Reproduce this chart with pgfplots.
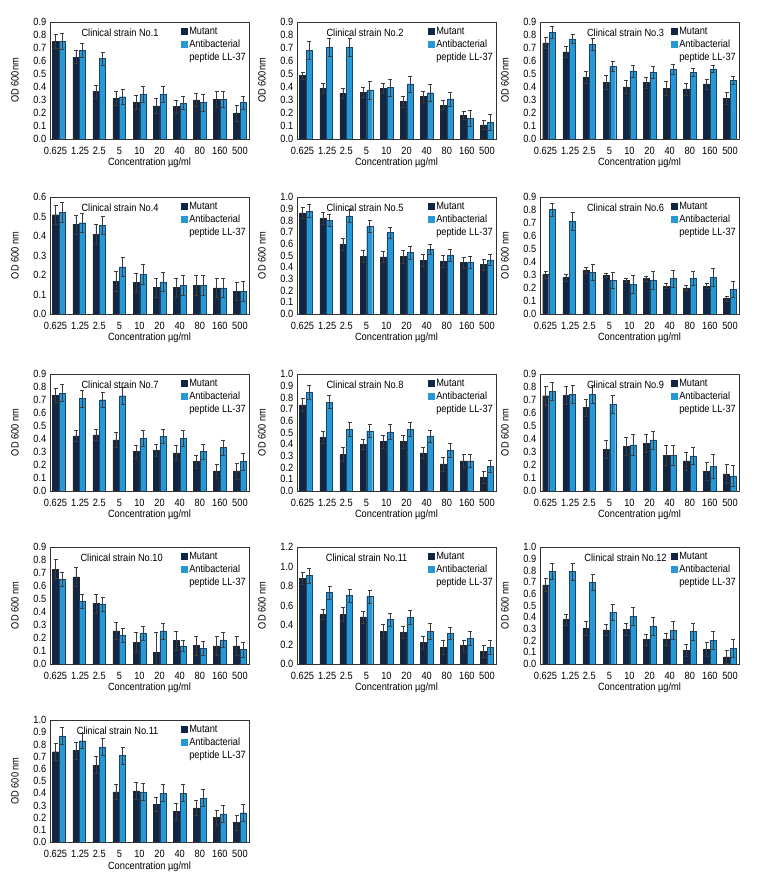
\documentclass[border=0pt]{standalone}
\usepackage{fontspec}
\setmainfont{Liberation Sans}[FakeStretch=0.88]
\usepackage{pgfplots}
\usepackage{pgfplotstable}
\pgfplotsset{compat=1.18}
\definecolor{mutcol}{RGB}{15,38,70}
\definecolor{llcol}{RGB}{38,152,214}
\definecolor{lledge}{RGB}{25,70,110}
\definecolor{errcol}{RGB}{60,60,60}
\newcommand{\fs}{\fontsize{10.5pt}{13.5pt}\selectfont}

\pgfplotsset{
  panel/.style={
    scale only axis, width=199pt,
    anchor=north west,
    ybar=0.7pt, bar width=6pt,
    xmin=-0.45, xmax=9.45, ymin=0,
    xtick={0,...,9},
    xticklabels={\hspace*{-7pt}0.625,\hspace*{2pt}1.25,2.5,5,10,20,40,80,160,500},
    tick style={draw=none},
    axis line style={draw=black!80, line width=0.6pt},
    /pgf/number format/assume math mode=true,
    yticklabel style={/pgf/number format/.cd, fixed, fixed zerofill, precision=1, assume math mode=true},
    xlabel={Concentration µg/ml},
    every axis x label/.style={at={(axis description cs:0.5,-0.205)}, anchor=center},
    every axis y label/.style={at={(axis description cs:-0.176,0.5)}, rotate=90, anchor=center},
    error bars/y dir=both, error bars/y explicit,
    error bars/error bar style={line width=0.5pt, draw=errcol},
    error bars/error mark options={rotate=90, mark size=2pt, line width=0.5pt, draw=errcol},
    legend style={draw=none, fill=none, at={(rel axis cs:1,1)}, anchor=north east,
      xshift=-1pt, yshift=-3pt, inner sep=0pt, row sep=-0.5pt,
      cells={anchor=west, align=left}},
    legend cell align=left,
  },
  mutbar/.style={fill=mutcol, draw=black!85, line width=0.4pt,
    legend image code/.code={\fill[mutcol] (-2pt,-3pt) rectangle (4pt,3pt);}},
  llbar/.style={fill=llcol, draw=lledge, line width=0.4pt,
    legend image code/.code={\fill[llcol] (-2pt,3.5pt) rectangle (4pt,9.5pt);}},
}

% #1 x, #2 y(top), #3 height, #4 ylabel, #5 ymax, #6 ystep, #7 title, #8 title rel x, #9 table
\newcommand{\panel}[9]{%
\begin{axis}[panel, at={(#1,#2)}, height=#3, ylabel={#4}, ymax=#5, ytick distance=#6]
\addplot[mutbar] table[x=x,y=m,y error=me]{#9};
\addlegendentry{Mutant}
\addplot[llbar] table[x=x,y=l,y error=le]{#9};
\addlegendentry{Antibacterial\\peptide LL-37}
\node[anchor=base] at (rel axis cs:#8,0.88) {#7};
\end{axis}}

\pgfplotstableread{
x m me l le
0 0.75 0.055 0.75 0.06
1 0.63 0.05 0.68 0.055
2 0.365 0.05 0.62 0.05
3 0.315 0.055 0.325 0.06
4 0.28 0.055 0.345 0.06
5 0.255 0.055 0.345 0.06
6 0.25 0.05 0.275 0.05
7 0.30 0.05 0.28 0.065
8 0.305 0.06 0.305 0.06
9 0.20 0.06 0.28 0.05
}\tA
\pgfplotstableread{
x m me l le
0 0.487 0.025 0.68 0.07
1 0.39 0.04 0.705 0.07
2 0.35 0.04 0.705 0.07
3 0.36 0.04 0.377 0.07
4 0.39 0.04 0.395 0.065
5 0.287 0.04 0.423 0.06
6 0.326 0.04 0.356 0.065
7 0.26 0.035 0.308 0.055
8 0.18 0.03 0.16 0.06
9 0.108 0.035 0.128 0.06
}\tB
\pgfplotstableread{
x m me l le
0 0.74 0.04 0.82 0.045
1 0.67 0.04 0.77 0.035
2 0.474 0.045 0.728 0.045
3 0.436 0.055 0.559 0.04
4 0.40 0.05 0.523 0.045
5 0.433 0.04 0.515 0.045
6 0.392 0.055 0.536 0.04
7 0.385 0.045 0.513 0.03
8 0.423 0.04 0.54 0.025
9 0.313 0.045 0.449 0.03
}\tC
\pgfplotstableread{
x m me l le
0 0.509 0.05 0.521 0.05
1 0.458 0.05 0.468 0.05
2 0.41 0.05 0.456 0.045
3 0.168 0.05 0.242 0.05
4 0.161 0.05 0.204 0.05
5 0.135 0.05 0.165 0.05
6 0.135 0.05 0.148 0.05
7 0.148 0.05 0.148 0.05
8 0.134 0.05 0.134 0.05
9 0.117 0.045 0.117 0.05
}\tD
\pgfplotstableread{
x m me l le
0 0.865 0.045 0.879 0.055
1 0.816 0.05 0.80 0.05
2 0.595 0.05 0.839 0.055
3 0.494 0.05 0.75 0.05
4 0.489 0.045 0.695 0.05
5 0.491 0.055 0.526 0.055
6 0.457 0.05 0.552 0.045
7 0.448 0.05 0.50 0.05
8 0.44 0.045 0.44 0.05
9 0.422 0.05 0.463 0.05
}\tE
\pgfplotstableread{
x m me l le
0 0.303 0.025 0.803 0.05
1 0.28 0.025 0.713 0.07
2 0.336 0.02 0.32 0.06
3 0.297 0.015 0.259 0.06
4 0.259 0.015 0.23 0.07
5 0.272 0.02 0.262 0.07
6 0.215 0.02 0.272 0.065
7 0.20 0.02 0.274 0.055
8 0.215 0.02 0.282 0.07
9 0.12 0.02 0.19 0.065
}\tF
\pgfplotstableread{
x m me l le
0 0.735 0.055 0.753 0.065
1 0.424 0.045 0.712 0.065
2 0.432 0.045 0.702 0.055
3 0.393 0.055 0.733 0.065
4 0.303 0.05 0.406 0.065
5 0.314 0.045 0.422 0.055
6 0.293 0.06 0.406 0.06
7 0.226 0.05 0.303 0.06
8 0.154 0.055 0.334 0.06
9 0.154 0.06 0.226 0.065
}\tG
\pgfplotstableread{
x m me l le
0 0.737 0.055 0.843 0.057
1 0.457 0.05 0.76 0.057
2 0.311 0.06 0.529 0.06
3 0.40 0.045 0.514 0.057
4 0.423 0.057 0.506 0.065
5 0.423 0.057 0.529 0.06
6 0.326 0.048 0.471 0.052
7 0.231 0.058 0.349 0.06
8 0.257 0.057 0.257 0.057
9 0.117 0.05 0.211 0.052
}\tH
\pgfplotstableread{
x m me l le
0 0.733 0.07 0.766 0.07
1 0.735 0.07 0.743 0.07
2 0.643 0.065 0.745 0.07
3 0.321 0.07 0.668 0.07
4 0.342 0.07 0.355 0.08
5 0.365 0.07 0.393 0.07
6 0.275 0.077 0.275 0.077
7 0.231 0.07 0.27 0.067
8 0.152 0.07 0.19 0.09
9 0.131 0.075 0.116 0.08
}\tI
\pgfplotstableread{
x m me l le
0 0.73 0.072 0.653 0.055
1 0.671 0.072 0.481 0.056
2 0.465 0.075 0.46 0.054
3 0.254 0.065 0.218 0.054
4 0.167 0.08 0.239 0.054
5 0.09 0.155 0.254 0.06
6 0.18 0.072 0.139 0.044
7 0.141 0.072 0.121 0.051
8 0.139 0.074 0.185 0.06
9 0.139 0.074 0.11 0.055
}\tJ
\pgfplotstableread{
x m me l le
0 0.878 0.063 0.906 0.077
1 0.51 0.056 0.733 0.066
2 0.507 0.07 0.701 0.07
3 0.483 0.06 0.691 0.07
4 0.337 0.073 0.455 0.07
5 0.323 0.06 0.476 0.073
6 0.219 0.063 0.337 0.08
7 0.174 0.073 0.316 0.063
8 0.188 0.056 0.264 0.07
9 0.132 0.06 0.17 0.073
}\tK
\pgfplotstableread{
x m me l le
0 0.677 0.052 0.794 0.066
1 0.38 0.049 0.789 0.071
2 0.303 0.06 0.697 0.066
3 0.291 0.049 0.443 0.066
4 0.297 0.052 0.406 0.077
5 0.209 0.048 0.323 0.077
6 0.214 0.052 0.289 0.074
7 0.117 0.052 0.277 0.072
8 0.126 0.06 0.203 0.074
9 0.06 0.054 0.134 0.08
}\tL
\pgfplotstableread{
x m me l le
0 0.74 0.07 0.87 0.07
1 0.75 0.07 0.83 0.06
2 0.63 0.07 0.78 0.07
3 0.41 0.06 0.71 0.07
4 0.42 0.07 0.41 0.07
5 0.31 0.06 0.40 0.07
6 0.25 0.07 0.40 0.07
7 0.28 0.06 0.36 0.07
8 0.20 0.06 0.23 0.07
9 0.16 0.06 0.24 0.07
}\tM

\begin{document}
\fs
\begin{tikzpicture}
\useasboundingbox (0,0) rectangle (756pt,888pt);
\panel{50pt}{866pt}{117pt}{OD 600nm}{0.9}{0.1}{Clinical strain No.1}{0.352}{\tA}
\panel{297pt}{866pt}{117pt}{OD 600nm}{0.9}{0.1}{Clinical strain No.2}{0.342}{\tB}
\panel{540pt}{866pt}{117pt}{OD 600nm}{0.9}{0.1}{Clinical strain No.3}{0.43}{\tC}
\panel{50pt}{691pt}{117pt}{OD 600 nm}{0.6}{0.1}{Clinical strain No.4}{0.352}{\tD}
\panel{297pt}{691pt}{117pt}{OD 600 nm}{1.0}{0.1}{Clinical strain No.5}{0.342}{\tE}
\panel{540pt}{691pt}{117pt}{OD 600 nm}{0.9}{0.1}{Clinical strain No.6}{0.43}{\tF}
\panel{50pt}{514pt}{117pt}{OD 600 nm}{0.9}{0.1}{Clinical strain No.7}{0.352}{\tG}
\panel{297pt}{514pt}{117pt}{OD 600 nm}{1.0}{0.1}{Clinical strain No.8}{0.342}{\tH}
\panel{540pt}{514pt}{117pt}{OD 600 nm}{0.9}{0.1}{Clinical strain No.9}{0.43}{\tI}
\panel{50pt}{341pt}{117pt}{OD 600 nm}{0.9}{0.1}{Clinical strain No.10}{0.36}{\tJ}
\panel{297pt}{341pt}{117pt}{OD 600 nm}{1.2}{0.2}{Clinical strain No.11}{0.35}{\tK}
\panel{540pt}{341pt}{117pt}{OD 600 nm}{1.0}{0.1}{Clinical strain No.12}{0.43}{\tL}
\panel{50pt}{168pt}{122pt}{OD 600 nm}{1.0}{0.1}{Clinical strain No.11}{0.34}{\tM}
\end{tikzpicture}
\end{document}
